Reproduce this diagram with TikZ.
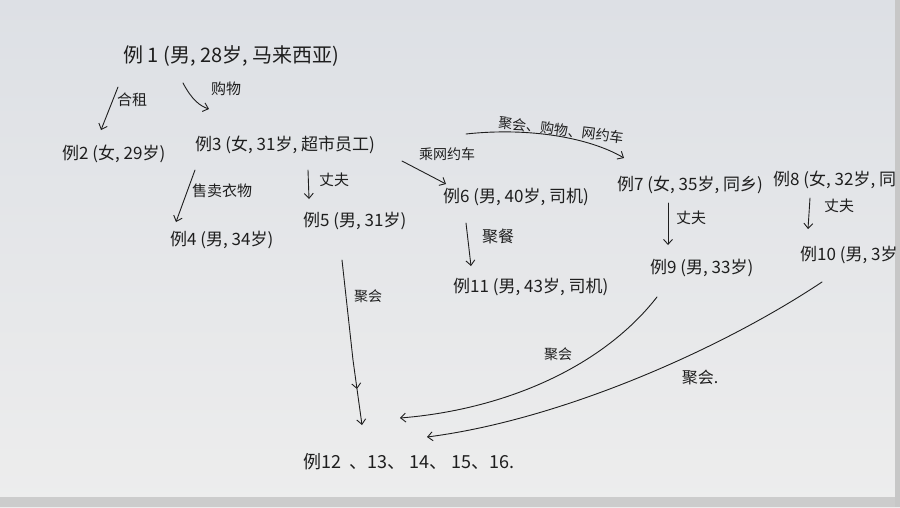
\documentclass[tikz,border=0pt]{standalone}
\usepackage{fontspec}
\newfontfamily\cjk{Noto Sans CJK SC}
\usetikzlibrary{arrows.meta,calc}
\definecolor{inkc}{HTML}{1E1E1E}
\definecolor{papertop}{HTML}{DDE0E5}
\definecolor{paperbot}{HTML}{EDEDED}
\tikzset{
  ink/.style={draw=inkc, line width=0.9pt, line cap=round, line join=round},
  arr/.style={ink, -{Straight Barb[length=5pt,width=9pt,line width=0.9pt]}},
  casebox/.style={font=\cjk\fontsize{17}{17}\selectfont, text=inkc, inner sep=0pt, anchor=west},
  lab/.style={font=\cjk\fontsize{15}{15}\selectfont, text=inkc, inner sep=0pt},
}
\begin{document}
\begin{tikzpicture}[x=1pt,y=-1pt]
\useasboundingbox (0,0) rectangle (900,507);
\shade[top color=papertop, bottom color=paperbot] (0,0) rectangle (900,507);
\fill[black!20] (0,497) rectangle (900,507);
\fill[black!22] (895,0) rectangle (900,507);

% case nodes
\node[casebox, font=\cjk\fontsize{20}{20}\selectfont] (c1) at (123,56) {例 1 (男, 28岁, 马来西亚)};
\node[casebox] (c2) at (62,154) {例2 (女, 29岁)};
\node[casebox] (c3) at (195,145) {例3 (女, 31岁, 超市员工)};
\node[casebox] (c4) at (170,240) {例4 (男, 34岁)};
\node[casebox] (c5) at (303,221) {例5 (男, 31岁)};
\node[casebox] (c6) at (443,197) {例6 (男, 40岁, 司机)};
\node[casebox] (c7) at (617,185) {例7 (女, 35岁, 同乡)};
\node[casebox] (c8) at (773,180) {例8 (女, 32岁, 同};
\node[casebox] (c9) at (650,268) {例9 (男, 33岁)};
\node[casebox] (c10) at (800,255) {例10 (男, 3岁};
\node[casebox] (c11) at (453,287) {例11 (男, 43岁, 司机)};
\node[casebox, font=\cjk\fontsize{18}{18}\selectfont] (c12) at (303,462) {例12 \ 、13、 14、 15、16.};

% arrow ends
\coordinate (a2s) at (118,87);   \coordinate (a2e) at (101,130);
\coordinate (a3s) at (183,83);   \coordinate (a3e) at (209,109);
\coordinate (a4s) at (195,170);  \coordinate (a4e) at (176,222);
\coordinate (a5s) at (308,170);  \coordinate (a5e) at (309,199);
\coordinate (a6s) at (402,161);  \coordinate (a6e) at (446,184);
\coordinate (a7s) at (466,134);  \coordinate (a7e) at (624,158);
\coordinate (a9s) at (668,203);  \coordinate (a9e) at (668,245);
\coordinate (a10s) at (810,198); \coordinate (a10e) at (808,229);
\coordinate (a11s) at (466,223); \coordinate (a11e) at (471,266);
\coordinate (b5s) at (342,260);  \coordinate (b5m) at (357,389); \coordinate (b5e) at (362,425);
\coordinate (b9s) at (657,297);  \coordinate (b9e) at (400,418);
\coordinate (b10s) at (822,282); \coordinate (b10e) at (427,437);

% connectors
\draw[arr] (a2s) -- (a2e);
\node[lab] (l2) at (132,100) {合租};
\draw[arr] (a3s) .. controls (192,100) and (200,106) .. (a3e);
\node[lab] (l3) at (226,89) {购物};
\draw[arr] (a4s) -- (a4e);
\node[lab] (l4) at (222,191) {售卖衣物};
\draw[arr] (a5s) -- (a5e);
\node[lab] (l5) at (334,180) {丈夫};
\draw[arr] (a6s) -- (a6e);
\node[lab, font=\cjk\fontsize{14}{14}\selectfont] (l6) at (447,154) {乘网约车};
\draw[arr] (a7s) .. controls (530,127) and (590,138) .. (a7e);
\node[lab, font=\cjk\fontsize{14}{14}\selectfont, rotate=-7] (l7) at (561,130) {聚会、购物、网约车};
\draw[arr] (a9s) -- (a9e);
\node[lab] (l9) at (691,218) {丈夫};
\draw[arr] (a10s) -- (a10e);
\node[lab] (l10) at (839,206) {丈夫};
\draw[arr] (a11s) -- (a11e);
\node[lab, font=\cjk\fontsize{16}{16}\selectfont] (l11) at (498,236) {聚餐};

\draw[arr] (b5s) -- (353,360) -- (b5m);
\draw[arr] (b5m) -- (b5e);
\node[lab, font=\cjk\fontsize{14}{14}\selectfont] (lb5) at (368,296) {聚会};
\draw[arr] (b9s) .. controls (600,370) and (500,410) .. (b9e);
\node[lab, font=\cjk\fontsize{14}{14}\selectfont] (lb9) at (558,354) {聚会};
\draw[arr] (b10s) .. controls (720,350) and (560,420) .. (b10e);
\node[lab, font=\cjk\fontsize{16}{16}\selectfont] (lb10) at (700,377) {聚会.};
\end{tikzpicture}
\end{document}
